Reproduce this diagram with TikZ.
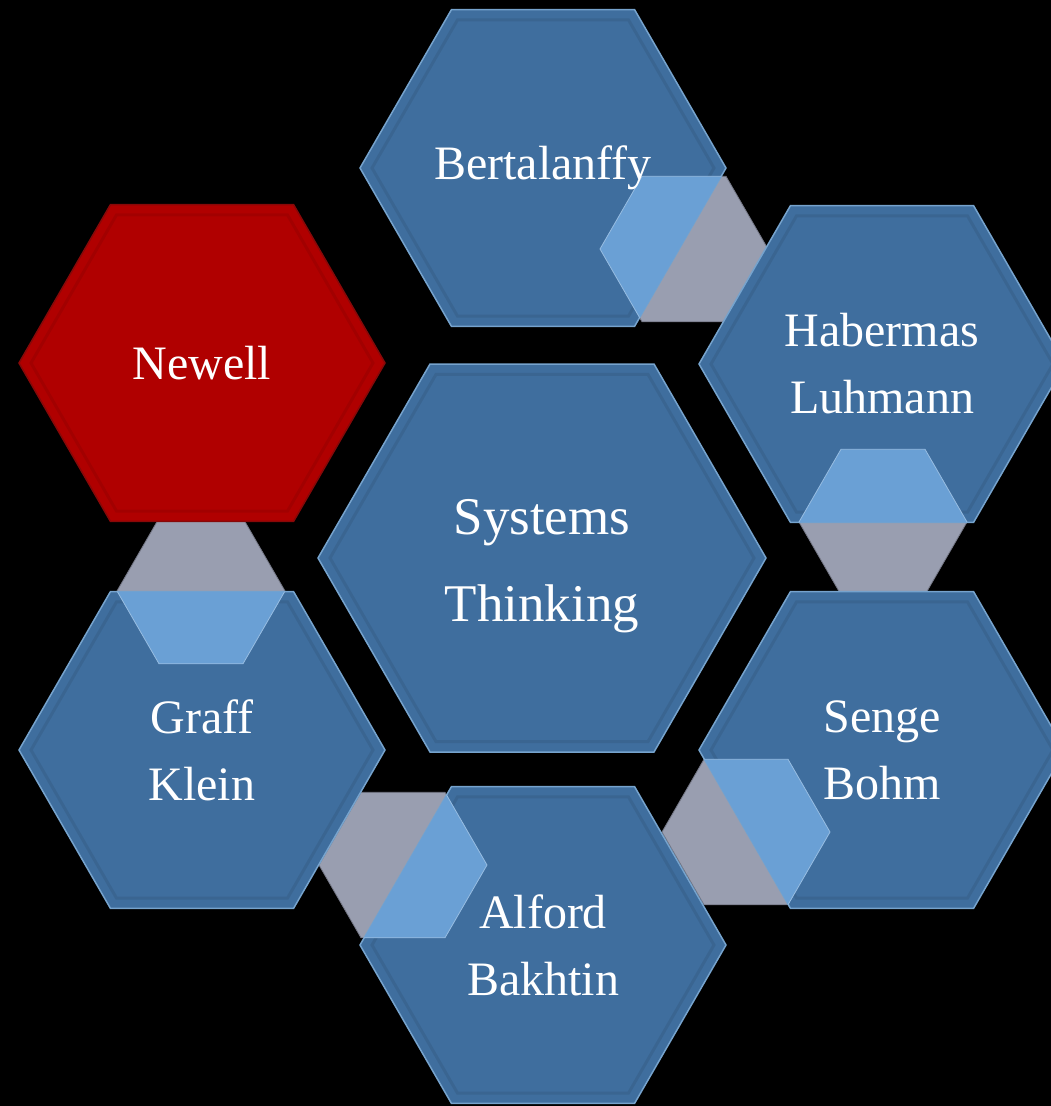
\documentclass[tikz,border=0pt]{standalone}
\usepackage{fontspec}
\setmainfont{Liberation Serif}
\usetikzlibrary{shapes.geometric}
\definecolor{hexblue}{RGB}{63,110,158}
\definecolor{hexedge}{RGB}{118,163,205}
\definecolor{hexred}{RGB}{176,0,0}
\definecolor{hexrededge}{RGB}{135,8,8}
\definecolor{linkgray}{RGB}{153,158,176}
\definecolor{linkblue}{RGB}{106,160,213}
\tikzstyle{hexbox} = [regular polygon, regular polygon sides=6, minimum size=366pt, inner sep=0pt, outer sep=0pt, fill=hexblue, draw=hexedge, line width=1.5pt]
\tikzstyle{bighex} = [hexbox, minimum size=448pt]
\tikzstyle{redhex} = [hexbox, fill=hexred, draw=hexrededge]
\tikzstyle{bevel} = [draw=black, line width=3pt, opacity=0.08]
\tikzstyle{hexlabel} = [text=white, align=center, inner sep=0pt, font=\fontsize{48}{67}\selectfont]
\tikzstyle{biglabel} = [hexlabel, font=\fontsize{53}{87}\selectfont]
\tikzstyle{link} = [fill=linkgray, draw=linkgray!75!black, line width=0.8pt]
\tikzstyle{linkcap} = [fill=linkblue, draw=linkblue!70!white, line width=0.8pt]
% hexagon path with centre (#1,#2) and radius #3
\newcommand{\hexat}[3]{(#1,#2) ++(0:#3) -- ++(120:#3) -- ++(180:#3) -- ++(240:#3) -- ++(300:#3) -- ++(0:#3) -- cycle}
\newcommand{\hexclip}[1]{\clip (#1.corner 1) -- (#1.corner 2) -- (#1.corner 3) -- (#1.corner 4) -- (#1.corner 5) -- (#1.corner 6) -- cycle;}

\begin{document}
\begin{tikzpicture}[x=1pt, y=-1pt]

	\fill[black] (0,0) rectangle (1051,1106);
	\useasboundingbox (0,0) rectangle (1051,1106);

	% links between the outer hexagons
	\path[link] \hexat{684}{249}{84};
	\path[link] \hexat{883}{522}{84};
	\path[link] \hexat{746}{832}{84};
	\path[link] \hexat{403}{865}{84};
	\path[link] \hexat{201}{591}{84};

	\node [hexbox] (bert) at (543,168) {};
	\node [hexbox] (haber) at (882,364) {};
	\node [hexbox] (senge) at (882,750) {};
	\node [hexbox] (alford) at (543,945) {};
	\node [hexbox] (graff) at (202,750) {};
	\node [redhex] (newell) at (202,363) {};
	\node [bighex] (systems) at (542,558) {};

	\draw[bevel] \hexat{543}{168}{171};
	\draw[bevel] \hexat{882}{364}{171};
	\draw[bevel] \hexat{882}{750}{171};
	\draw[bevel] \hexat{543}{945}{171};
	\draw[bevel] \hexat{202}{750}{171};
	\draw[bevel] \hexat{202}{363}{171};
	\draw[bevel] \hexat{542}{558}{212};

	\begin{scope} \hexclip{bert} \path[linkcap] \hexat{684}{249}{84}; \end{scope}
	\begin{scope} \hexclip{haber} \path[linkcap] \hexat{883}{522}{84}; \end{scope}
	\begin{scope} \hexclip{senge} \path[linkcap] \hexat{746}{832}{84}; \end{scope}
	\begin{scope} \hexclip{alford} \path[linkcap] \hexat{403}{865}{84}; \end{scope}
	\begin{scope} \hexclip{graff} \path[linkcap] \hexat{201}{591}{84}; \end{scope}

	\node [hexlabel] (bertT) at (bert) {Bertalanffy};
	\node [hexlabel] (haberT) at (haber) {Habermas\\Luhmann};
	\node [hexlabel] (sengeT) at (senge) {Senge\\Bohm};
	\node [hexlabel] (alfordT) at (alford) {Alford\\Bakhtin};
	\node [hexlabel] (graffT) at (graff) {Graff\\Klein};
	\node [hexlabel] (newellT) at (newell) {Newell};
	\node [biglabel] (systemsT) at ([yshift=-8pt]systems.center) {Systems\\Thinking};
\end{tikzpicture}
\end{document}
